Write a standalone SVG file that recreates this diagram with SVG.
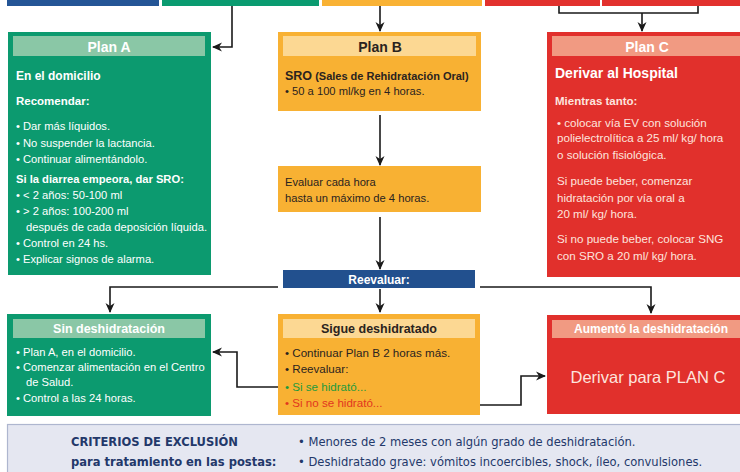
<svg xmlns="http://www.w3.org/2000/svg" width="740" height="472" viewBox="0 0 740 472">
<defs>
<marker id="ah" viewBox="0 0 10 10" refX="9" refY="5" markerWidth="10" markerHeight="10" markerUnits="userSpaceOnUse" orient="auto">
<path d="M0,0.5 L10,5 L0,9.5 L3,5 z" fill="#1a1a1a"/>
</marker>
<style>
text{font-family:"Liberation Sans","Open Sans",sans-serif;}
.w{fill:#ffffff;}
.d{fill:#2a2320;}
.c{fill:#fde4de;}
.b{font-weight:bold;}
.s{font-size:11.2px;}
.sc{font-size:11.6px;}
.h{font-size:14px;font-weight:bold;text-anchor:middle;}
.conn{fill:none;stroke:#1a1a1a;stroke-width:1.6;}
.g{fill:#0c9a6f;}
.gh{fill:#8ac7a6;}
.o{fill:#f8b133;}
.oh{fill:#fcd893;}
.r{fill:#e1302c;}
.rh{fill:#f19a82;}
.n{font-family:"Liberation Sans Narrow","DejaVu Sans Condensed","Liberation Sans",sans-serif;}
</style>
</defs>
<rect width="740" height="472" fill="#ffffff"/>

<g id="topbars">
<rect x="7" y="0" width="152" height="6" fill="#245596"/>
<rect x="162" y="0" width="157" height="6" fill="#0a9b70"/>
<rect x="322" y="0" width="160" height="6" fill="#f9b234"/>
<rect x="485" y="0" width="115" height="6" fill="#e2312d"/>
<rect x="602" y="0" width="138" height="6" fill="#e2312d"/>
</g>

<g id="connectors">
<path class="conn" d="M232 6 V47 H213" marker-end="url(#ah)"/>
<path class="conn" d="M380 6 V31" marker-end="url(#ah)"/>
<path class="conn" d="M559 6 V13 H698 V6"/>
<path class="conn" d="M642 13 V31" marker-end="url(#ah)"/>
<path class="conn" d="M380 115 V165" marker-end="url(#ah)"/>
<path class="conn" d="M380 217 V269" marker-end="url(#ah)"/>
<path class="conn" d="M278 287 H110 V312" marker-end="url(#ah)"/>
<path class="conn" d="M480 287 H651 V313" marker-end="url(#ah)"/>
<path class="conn" d="M380 289 V312" marker-end="url(#ah)"/>
<path class="conn" d="M283 387 H237 V352 H213" marker-end="url(#ah)"/>
<path class="conn" d="M388 405 H521 V376 H545" marker-end="url(#ah)"/>
</g>

<g id="planA">
<rect class="g" x="8" y="32" width="203" height="243"/>
<rect class="gh" x="13" y="36" width="192" height="20"/>
<text class="h w" x="109" y="51.5">Plan A</text>
<text class="w b" x="16" y="80" font-size="12">En el domicilio</text>
<text class="w b" x="16" y="105" font-size="11.5">Recomendar:</text>
<text class="w s" x="16" y="130">• Dar más líquidos.</text>
<text class="w s" x="16" y="147">• No suspender la lactancia.</text>
<text class="w s" x="16" y="163">• Continuar alimentándolo.</text>
<text class="w s b" x="16" y="183">Si la diarrea empeora, dar SRO:</text>
<text class="w s" x="16" y="199">• &lt; 2 años: 50-100 ml</text>
<text class="w s" x="16" y="215">• &gt; 2 años: 100-200 ml</text>
<text class="w s" x="26" y="231">después de cada deposición líquida.</text>
<text class="w s" x="16" y="247">• Control en 24 hs.</text>
<text class="w s" x="16" y="263">• Explicar signos de alarma.</text>
</g>

<g id="planB">
<rect class="o" x="278" y="32" width="203" height="79"/>
<rect class="oh" x="283" y="36" width="193" height="20"/>
<text class="h d" x="380" y="51.5">Plan B</text>
<text class="d" x="285" y="80" font-size="11"><tspan font-weight="bold" font-size="12.5">SRO</tspan><tspan font-weight="bold"> (Sales de Rehidratación Oral)</tspan></text>
<text class="d s" x="285" y="95">• 50 a 100 ml/kg en 4 horas.</text>
</g>

<g id="evaluar">
<rect class="o" x="278" y="166" width="203" height="46"/>
<text class="d s" x="285" y="186">Evaluar cada hora</text>
<text class="d s" x="285" y="202">hasta un máximo de 4 horas.</text>
</g>

<g id="planC">
<rect class="r" x="547" y="32" width="193" height="245"/>
<rect class="rh" x="552" y="36" width="188" height="20"/>
<text class="h w" x="647" y="51.5">Plan C</text>
<text class="w b" x="555" y="78" font-size="14">Derivar al Hospital</text>
<text class="c b" x="555" y="105" font-size="11.5">Mientras tanto:</text>
<text class="c sc" x="557" y="127">• colocar vía EV con solución</text>
<text class="c sc" x="557" y="142">polielectrolítica a 25 ml/ kg/ hora</text>
<text class="c sc" x="557" y="159">o solución fisiológica.</text>
<text class="c sc" x="557" y="185">Si puede beber, comenzar</text>
<text class="c sc" x="557" y="202">hidratación por vía oral a</text>
<text class="c sc" x="557" y="218">20 ml/ kg/ hora.</text>
<text class="c sc" x="557" y="243">Si no puede beber, colocar SNG</text>
<text class="c sc" x="557" y="260">con SRO a 20 ml/ kg/ hora.</text>
</g>

<g id="reevaluar">
<rect x="283" y="270" width="192" height="18" fill="#22508e"/>
<text class="w b" x="379" y="283.5" font-size="12" text-anchor="middle">Reevaluar:</text>
</g>

<g id="sinDeshidratacion">
<rect class="g" x="7" y="314" width="204" height="102"/>
<rect class="gh" x="13" y="319" width="192" height="19"/>
<text class="w b" x="109" y="333" font-size="12.5" text-anchor="middle">Sin deshidratación</text>
<text class="w s" x="16" y="356">• Plan A, en el domicilio.</text>
<text class="w s" x="16" y="371">• Comenzar alimentación en el Centro</text>
<text class="w s" x="26" y="386">de Salud.</text>
<text class="w s" x="16" y="402">• Control a las 24 horas.</text>
</g>

<g id="sigueDeshidratado">
<rect class="o" x="278" y="314" width="202" height="101"/>
<rect class="oh" x="283" y="319" width="192" height="19"/>
<text class="d b" x="379" y="333" font-size="12.5" text-anchor="middle">Sigue deshidratado</text>
<text class="d sc" x="285" y="357">• Continuar Plan B 2 horas más.</text>
<text class="d sc" x="285" y="373">• Reevaluar:</text>
<text class="sc" x="285" y="391" fill="#1e9a3c">• Si se hidrató...</text>
<text class="sc" x="285" y="407" fill="#e2361f">• Si no se hidrató...</text>
</g>

<g id="aumento">
<rect class="r" x="547" y="315" width="193" height="99"/>
<rect class="rh" x="552" y="320" width="188" height="18"/>
<text class="w b" x="651" y="333" font-size="12" text-anchor="middle">Aumentó la deshidratación</text>
<text class="c" x="648" y="383" font-size="16.5" text-anchor="middle">Derivar para PLAN C</text>
</g>

<g id="criterios">
<rect x="7.5" y="424.5" width="740" height="50" fill="#e5e7f1" stroke="#aeb6cf" stroke-width="1.2"/>
<text class="n b" x="71" y="446" font-size="12.8" fill="#23386a">CRITERIOS DE EXCLUSIÓN</text>
<text class="n b" x="71" y="466" font-size="12.8" fill="#23386a">para tratamiento en las postas:</text>
<text class="n" x="298" y="446" font-size="12.8" fill="#23386a">• Menores de 2 meses con algún grado de deshidratación.</text>
<text class="n" x="298" y="466" font-size="12.8" fill="#23386a">• Deshidratado grave: vómitos incoercibles, shock, íleo, convulsiones.</text>
</g>
</svg>
